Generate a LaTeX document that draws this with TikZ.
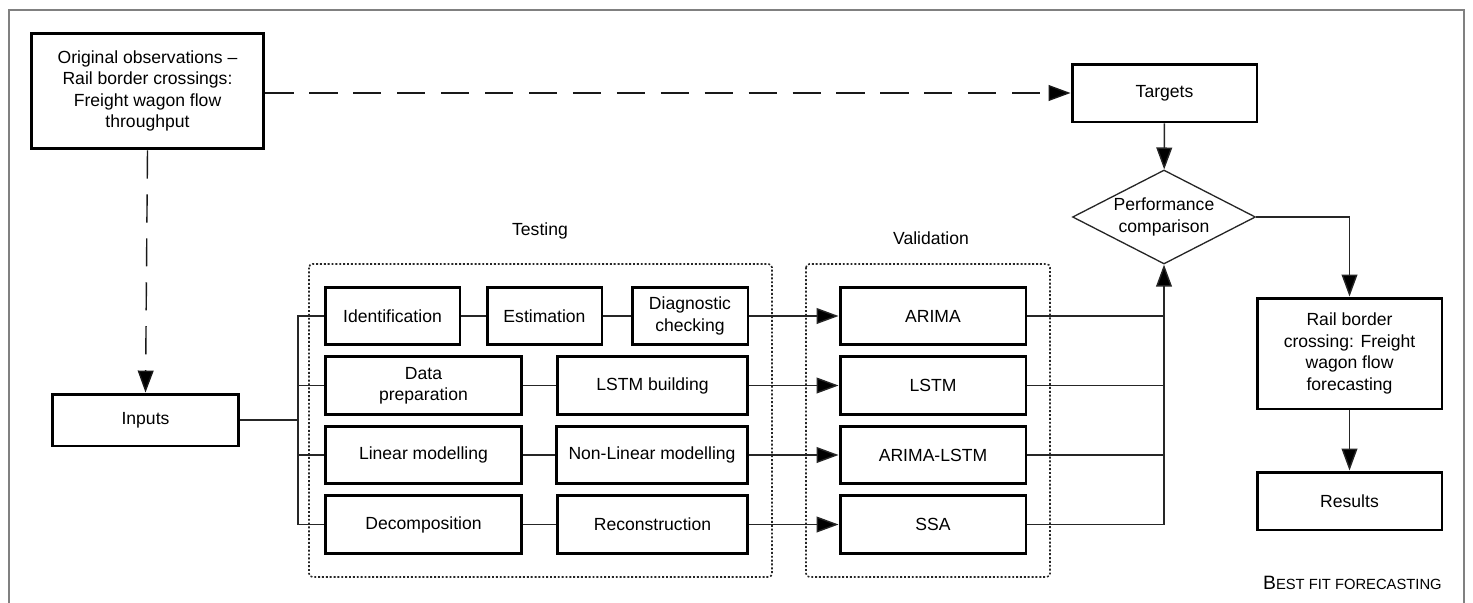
\documentclass[tikz,border=0pt]{standalone}
\usepackage{fontspec}
\setmainfont{Liberation Sans}
\usepackage{tikz}
\usetikzlibrary{arrows.meta,positioning,calc,shapes.geometric}
\definecolor{FrameGrey}{RGB}{128,128,128}
\tikzset{
  flowbox/.style={draw=black, line width=1.7pt, align=center,
    font=\fontsize{10}{12.2}\selectfont, inner sep=2pt,
    minimum height=1.15cm, fill=white},
  decision/.style={diamond, draw=black!85, line width=0.75pt, align=center,
    font=\fontsize{10}{12.2}\selectfont, inner sep=0pt, aspect=2,
    minimum width=3.66cm, minimum height=1.88cm},
  link/.style={draw=black!85, line width=0.8pt},
  flowarrow/.style={link, -{Triangle[length=12.5pt,width=9pt,fill=black]}},
  dasharrow/.style={flowarrow, draw=black!90, dash pattern=on 16pt off 9pt},
  groupbox/.style={draw=black!85, line width=0.9pt, dash pattern=on 1.1pt off 1.1pt, rounded corners=2pt},
  grouplabel/.style={font=\fontsize{10}{12}\selectfont}
}

\begin{document}
\begin{tikzpicture}[x=0.02cm, y=-0.02cm]
      \useasboundingbox (0,0) rectangle (1473,602);
      \draw[FrameGrey, line width=0.9pt] (9,615) -- (9,10) -- (1464,10) -- (1464,615);

      % sources and targets
      \node[flowbox, minimum width=4.66cm, minimum height=2.32cm] (obs) at (147.5,91)
        {Original observations --\\Rail border crossings:\\Freight wagon flow\\throughput};
      \node[flowbox, minimum width=3.74cm, minimum height=1.04cm] (inputs) at (145.5,420) {Inputs};
      \node[flowbox, minimum width=3.7cm, minimum height=1.16cm] (targets) at (1164.5,93) {Targets};
      \node[decision] (perf) at (1164,217) {Performance\\comparison};
      \node[flowbox, minimum width=3.7cm, minimum height=2.22cm] (fcast) at (1349.5,353.5)
        {Rail border\\crossing: Freight\\wagon flow\\forecasting};
      \node[flowbox, minimum width=3.7cm, minimum height=1.16cm] (results) at (1349.5,501) {Results};

      % testing
      \draw[groupbox] (309,264) rectangle (772,577);
      \node[grouplabel] (testing) at (540,231) {Testing};
      \node[flowbox, minimum width=2.7cm] (ident) at (392.5,316) {Identification};
      \node[flowbox, minimum width=2.3cm] (estim) at (544.5,316) {Estimation};
      \node[flowbox, minimum width=2.32cm] (diag) at (690,316) {Diagnostic\\checking};
      \node[flowbox, minimum width=3.94cm] (dprep) at (423.5,385.5) {Data\\preparation};
      \node[flowbox, minimum width=3.82cm] (lbuild) at (652.5,385.5) {LSTM building};
      \node[flowbox, minimum width=3.94cm] (linear) at (423.5,455) {Linear modelling};
      \node[flowbox, minimum width=3.84cm] (nonlin) at (652,455) {Non-Linear modelling};
      \node[flowbox, minimum width=3.94cm] (decomp) at (423.5,524.5) {Decomposition};
      \node[flowbox, minimum width=3.82cm] (recon) at (652.5,524.5) {Reconstruction};

      % validation
      \draw[groupbox] (806,264) rectangle (1050,577);
      \node[grouplabel] (valid) at (931,238) {Validation};
      \node[flowbox, minimum width=3.72cm] (arima) at (933,316) {ARIMA};
      \node[flowbox, minimum width=3.72cm] (lstm) at (933,385.5) {LSTM};
      \node[flowbox, minimum width=3.72cm] (hybrid) at (933,455) {ARIMA-LSTM};
      \node[flowbox, minimum width=3.72cm] (ssa) at (933,524.5) {SSA};

      \node[anchor=east, inner sep=0pt, font=\fontsize{11}{12}\selectfont] (tag) at (1442,583)
        {B{\fontsize{8.4}{9}\selectfont EST FIT FORECASTING}};

      % connectors
      \coordinate (bus) at (298,0);
      \draw[dasharrow] (obs.east |- targets) -- (targets.west);
      \draw[dasharrow] (obs.south) -- (inputs.north);
      \foreach \n in {ident,dprep,linear,decomp}
        \draw[link] (inputs.east) -| (bus |- \n.west) -- (\n.west);
      \draw[link] (ident) -- (estim);
      \draw[link] (estim) -- (diag);
      \draw[link] (dprep) -- (lbuild);
      \draw[link] (linear) -- (nonlin);
      \draw[link] (decomp) -- (recon);
      \draw[flowarrow] (diag) -- (arima);
      \draw[flowarrow] (lbuild) -- (lstm);
      \draw[flowarrow] (nonlin) -- (hybrid);
      \draw[flowarrow] (recon) -- (ssa);
      \foreach \n in {arima,lstm,hybrid}
        \draw[link] (\n.east) -- (\n.east -| perf.south);
      \draw[flowarrow] (ssa.east) -| (perf.south);
      \draw[flowarrow] (targets) -- (perf);
      \draw[flowarrow] (perf.east) -| (fcast.north);
      \draw[flowarrow] (fcast) -- (results);
    \end{tikzpicture}
\end{document}
